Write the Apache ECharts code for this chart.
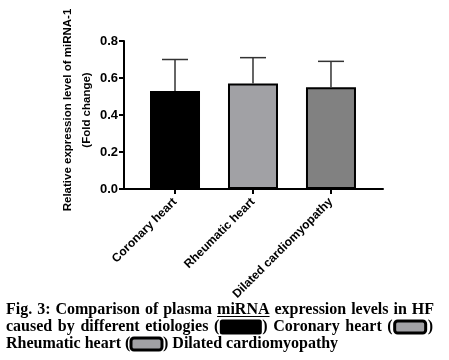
<!DOCTYPE html>
<html><head><meta charset="utf-8">
<script src="https://cdn.jsdelivr.net/npm/echarts@6/dist/echarts.min.js"></script>
<style>html,body{margin:0;padding:0;background:#fff}#c{width:449px;height:360px}</style>
</head><body><div id="c"></div>
<script>
const categories = ['Coronary heart', 'Rheumatic heart', 'Dilated cardiomyopathy'];
const means = [0.53, 0.57, 0.55];
const errors = [0.17, 0.14, 0.14];
const barColors = ['#000000', '#a1a1a5', '#818181'];
const swatchColors = ['#000000', '#a1a1a5', '#a1a1a5'];
const yTitle = 'Relative expression level of miRNA-1\n(Fold change)';
const captionLine1 = ['Fig.', '3:', 'Comparison', 'of', 'plasma', 'miRNA', 'expression', 'levels', 'in', 'HF'];
const captionLine2 = ['caused', 'by', 'different', 'etiologies', {swatch: 0}, 'Coronary', 'heart', {swatch: 1}];

const chart = echarts.init(document.getElementById('c'), null, {renderer: 'canvas'});
const capFont = 'bold 16px "Liberation Serif", "Times New Roman", serif';
const ctx = document.createElement('canvas').getContext('2d');
ctx.font = capFont;
const tw = t => ctx.measureText(t).width;

function word(text, x, y) {
  return {type: 'text', left: x, top: y, style: {text: text, font: capFont, fill: '#000'}};
}
function swatch(x, y, w, fill, r) {
  return {type: 'rect', shape: {x: x, y: y, width: w, height: 12, r: r},
    style: {fill: fill, stroke: '#000', lineWidth: 3}};
}
const swW = [39, 31];
function tokenWidth(tok) {
  if (typeof tok === 'string') return tw(tok);
  return tw('(') + 2 + swW[tok.swatch] + 2 + tw(')');
}
function justify(tokens, x0, x1, y, underline) {
  const total = tokens.reduce((s, t) => s + tokenWidth(t), 0);
  const gap = (x1 - x0 - total) / (tokens.length - 1);
  const out = [];
  let x = x0;
  tokens.forEach(tok => {
    if (typeof tok === 'string') {
      out.push(word(tok, x, y));
      if (tok === underline) out.push({type: 'rect', shape: {x: x, y: y + 14, width: tw(tok), height: 1}, style: {fill: '#000'}});
    } else {
      const w = swW[tok.swatch];
      out.push(word('(', x, y));
      out.push(swatch(x + tw('(') + 2, y + 2, w, swatchColors[tok.swatch], tok.swatch === 0 ? 1 : 3));
      out.push(word(')', x + tw('(') + 4 + w, y));
    }
    x += tokenWidth(tok) + gap;
  });
  return out;
}

const line1Y = 302, line2Y = 319, line3Y = 336;
const option = {
  animation: false,
  grid: {left: 124, top: 41, right: 66, bottom: 171, containLabel: false},
  xAxis: {
    type: 'value', min: -0.654, max: 2.667,
    splitLine: {show: false},
    axisLine: {show: true, onZero: false, lineStyle: {color: '#000', width: 2}},
    axisTick: {show: true, customValues: [0, 1, 2], length: 5, lineStyle: {color: '#000', width: 2}},
    axisLabel: {
      customValues: [0, 1, 2], rotate: 45, margin: 11,
      formatter: v => categories[Math.round(v)] || '',
      fontFamily: '"Liberation Sans", Arial, sans-serif', fontWeight: 'bold', fontSize: 12, color: '#000'
    }
  },
  yAxis: {
    type: 'value', min: 0, max: 0.8, interval: 0.2,
    splitLine: {show: false},
    axisLine: {show: true, onZero: false, lineStyle: {color: '#000', width: 2}},
    axisTick: {show: true, length: 5, lineStyle: {color: '#000', width: 2}},
    axisLabel: {
      formatter: v => v.toFixed(1), margin: 6,
      fontFamily: '"Liberation Sans", Arial, sans-serif', fontWeight: 'bold', fontSize: 13, color: '#000'
    }
  },
  series: [
    {
      type: 'bar', barWidth: 50,
      data: means.map((m, i) => ({value: [i, m], itemStyle: {color: barColors[i], borderColor: '#000', borderWidth: 2}})),
      z: 2
    },
    {
      type: 'custom', z: 3,
      data: means.map((m, i) => [i, m, m + errors[i]]),
      renderItem: (params, api) => {
        const x = api.value(0);
        const lo = api.coord([x, api.value(1)]);
        const hi = api.coord([x, api.value(2)]);
        const half = 13;
        const st = {stroke: '#333', lineWidth: 1.5};
        return {type: 'group', children: [
          {type: 'line', shape: {x1: lo[0], y1: lo[1], x2: hi[0], y2: hi[1]}, style: st},
          {type: 'line', shape: {x1: hi[0] - half, y1: hi[1], x2: hi[0] + half, y2: hi[1]}, style: st}
        ]};
      }
    }
  ],
  graphic: [
    {type: 'text', x: 77, y: 110, rotation: Math.PI / 2,
      style: {text: yTitle, font: 'bold 11.5px "Liberation Sans", Arial, sans-serif', fill: '#000',
        align: 'center', verticalAlign: 'middle', lineHeight: 19}},
    ...justify(captionLine1, 6, 434, line1Y, 'miRNA'),
    ...justify(captionLine2, 6, 433, line2Y),
    word('Rheumatic heart (', 6, line3Y),
    swatch(131, line3Y + 2, 31, swatchColors[2], 3),
    word(') Dilated cardiomyopathy', 163, line3Y)
  ]
};
chart.setOption(option);
</script></body></html>
